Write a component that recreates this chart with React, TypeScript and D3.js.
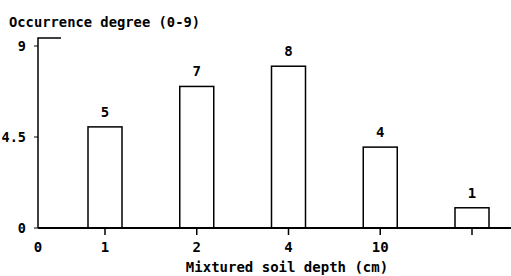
import { useEffect, useRef } from "react";
import * as d3 from "d3";

// Data
const depthLabels = ["1", "2", "4", "10", ""];
const degreeValues = [5, 7, 8, 4, 1];
const yTicks = [0, 4.5, 9];
const yTickLabels = ["0", "4.5", "9"];

const App = () => {
  const svgRef = useRef<SVGSVGElement | null>(null);

  useEffect(() => {
    const width = 511;
    const height = 276;
    const font = "'DejaVu Sans Mono', 'Liberation Mono', monospace";

    const svg = d3.select(svgRef.current).attr("width", width).attr("height", height);
    svg.selectAll("*").remove();

    const originX = 38;
    const baseY = 228;

    // Scales
    const x = d3.scalePoint<string>().domain(depthLabels).range([105, 472]);
    const y = d3.scaleLinear().domain([0, 9]).range([baseY, 46]);
    const barWidth = 34;

    const root = svg.append("g");

    // Y axis line + short top cap
    root
      .append("path")
      .attr("d", `M${originX + 23},38 H${originX} V${baseY}`)
      .attr("fill", "none")
      .attr("stroke", "#000")
      .attr("stroke-width", 1.5);

    // Y ticks
    const yt = root
      .selectAll("g.ytick")
      .data(yTicks)
      .join("g")
      .attr("class", "ytick")
      .attr("transform", (d) => `translate(${originX},${y(d)})`);
    yt.append("line").attr("x1", -4).attr("x2", 0).attr("stroke", "#000").attr("stroke-width", 1);
    yt.append("text")
      .attr("x", -12)
      .attr("y", 5)
      .attr("text-anchor", "end")
      .attr("font-family", font)
      .attr("font-weight", "bold")
      .attr("font-size", 13.5)
      .text((_, i) => yTickLabels[i]);

    // Bars
    root
      .selectAll("rect.bar")
      .data(degreeValues)
      .join("rect")
      .attr("class", "bar")
      .attr("x", (_, i) => (x(depthLabels[i]) ?? 0) - barWidth / 2)
      .attr("y", (d) => y(d))
      .attr("width", barWidth)
      .attr("height", (d) => y(0) - y(d))
      .attr("fill", "#fff")
      .attr("stroke", "#000")
      .attr("stroke-width", 1.5);

    // Value labels
    root
      .selectAll("text.val")
      .data(degreeValues)
      .join("text")
      .attr("class", "val")
      .attr("x", (_, i) => x(depthLabels[i]) ?? 0)
      .attr("y", (d) => y(d) - 10)
      .attr("text-anchor", "middle")
      .attr("font-family", font)
      .attr("font-weight", "bold")
      .attr("font-size", 14)
      .text((d) => d);

    // X axis
    root
      .append("line")
      .attr("x1", originX)
      .attr("x2", width)
      .attr("y1", baseY)
      .attr("y2", baseY)
      .attr("stroke", "#000")
      .attr("stroke-width", 1.8);

    const xt = root
      .selectAll("g.xtick")
      .data(depthLabels)
      .join("g")
      .attr("class", "xtick")
      .attr("transform", (d) => `translate(${x(d)},${baseY})`);
    xt.append("line").attr("y2", 7).attr("stroke", "#000").attr("stroke-width", 1.5);
    xt.append("text")
      .attr("y", 24)
      .attr("text-anchor", "middle")
      .attr("font-family", font)
      .attr("font-weight", "bold")
      .attr("font-size", 14)
      .text((d) => d);

    // origin "0" on x axis
    root
      .append("text")
      .attr("x", originX)
      .attr("y", baseY + 24)
      .attr("text-anchor", "middle")
      .attr("font-family", font)
      .attr("font-weight", "bold")
      .attr("font-size", 14)
      .text("0");

    // Titles
    root
      .append("text")
      .attr("x", 9)
      .attr("y", 27)
      .attr("font-family", font)
      .attr("font-weight", "bold")
      .attr("font-size", 13.8)
      .text("Occurrence degree (0-9)");

    root
      .append("text")
      .attr("x", 287)
      .attr("y", 272)
      .attr("text-anchor", "middle")
      .attr("font-family", font)
      .attr("font-weight", "bold")
      .attr("font-size", 14)
      .text("Mixtured soil depth (cm)");
  }, []);

  return (
    <div style={{ position: "absolute", left: 0, top: 0, background: "#fff" }}>
      <svg ref={svgRef} style={{ display: "block" }} />
    </div>
  );
};

export default App;
